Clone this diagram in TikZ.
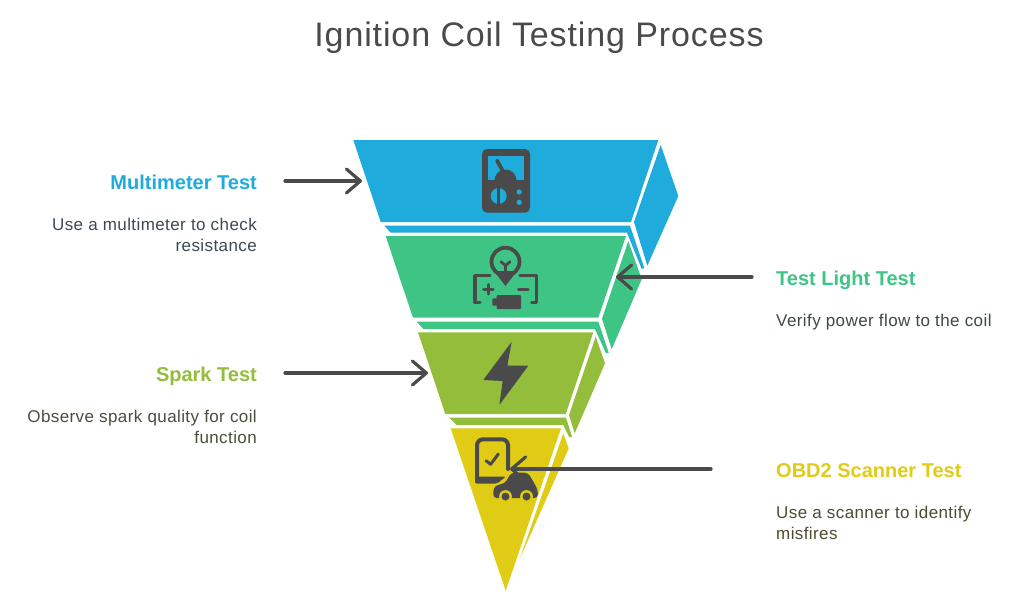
\documentclass[tikz,border=0pt]{standalone}
\usepackage{fontspec}
\setmainfont{Liberation Sans}
\usetikzlibrary{arrows.meta}
\definecolor{cblue}{HTML}{1FABDC}
\definecolor{cgreen}{HTML}{3EC585}
\definecolor{colive}{HTML}{93BD3A}
\definecolor{cyellow}{HTML}{E0CC14}
\definecolor{ink}{HTML}{4A4A4A}
\definecolor{dblue}{HTML}{3C4A52}
\definecolor{dgreen}{HTML}{3B4B44}
\definecolor{dolive}{HTML}{46503B}
\definecolor{dyellow}{HTML}{4D4B30}
\tikzset{
  pointer/.style={draw=ink,line width=3.2pt,line cap=round,-{Straight Barb[length=14pt,width=24pt,line join=round,line cap=round]}},
  icon/.style={draw=ink,line width=4pt,line cap=round,line join=round},
  head/.style={font=\fontsize{20}{24}\selectfont\bfseries,inner sep=0pt},
  desc/.style={font=\fontsize{17}{21}\addfontfeature{LetterSpace=2.4}\selectfont,inner sep=0pt},
  lefthead/.style={head,anchor=base east},
  righthead/.style={head,anchor=base west},
}
\begin{document}
\begin{tikzpicture}[x=1pt,y=-1pt]
\useasboundingbox[fill=white] (0,0) rectangle (1024,613);
\node[inner sep=0pt,text=ink,anchor=base,font=\fontsize{34}{40}\addfontfeature{LetterSpace=2.6}\selectfont] (title) at (539,46) {Ignition Coil Testing Process};

% blue
\fill[cblue] (353.3,140)--(658.3,140)--(631,222)--(380.7,222)--cycle;
\fill[cblue] (660.7,145)--(678.3,196)--(647.3,265.7)--(634,222)--cycle;
\fill[cblue] (384.3,225.7)--(630,225.7)--(644.3,268)--(641.7,269)--(627,232.7)--(390.7,232.7)--cycle;
% green
\fill[cgreen] (385.7,236)--(626,236)--(598.3,317.7)--(413,317.7)--cycle;
\fill[cgreen] (628.3,241)--(641.7,279.3)--(611.7,349.3)--(602,318.7)--cycle;
\fill[cgreen] (416.7,321.7)--(598.3,321.7)--(608.7,352.7)--(606,353.3)--(595,329)--(423.3,329)--cycle;
% olive
\fill[colive] (418,332.3)--(593.3,332.3)--(565.7,414)--(445.3,414)--cycle;
\fill[colive] (595.7,336.7)--(605,363.3)--(574.7,433.3)--(569,415)--cycle;
\fill[colive] (449.3,417.7)--(566,417.7)--(572,436.7)--(569.3,437.3)--(563.3,425)--(456.7,425)--cycle;
% yellow
\fill[cyellow] (450.7,428.3)--(561,428.3)--(505.7,590.7)--cycle;
\fill[cyellow] (563.3,433.3)--(568.7,448.3)--(520,558.3)--cycle;

% multimeter icon
\fill[ink,rounded corners=5pt] (482,149) rectangle (530,212.7);
\fill[cblue] (487.7,155.7) rectangle (524,180);
\fill[ink] (494.5,180.5) arc[start angle=180,end angle=360,radius=11] -- cycle;
\draw[ink,line width=3.8pt,line cap=round] (497,160.5)--(505,175);
\fill[cblue] (498.7,196) circle[radius=8];
\fill[ink] (497.2,186) rectangle (500.2,206);
\fill[cblue] (519.2,192) circle[radius=2.6];
\fill[cblue] (519.2,202.3) circle[radius=2.6];

% bulb icon
\draw[icon,line width=3.8pt] (505.5,261.7) circle[radius=14];
\fill[ink] (494,271) -- (505.5,286) -- (517,271) -- cycle;
\draw[icon,line width=2.8pt] (501,261.7)--(505.5,265.5)--(510,261.7) (505.5,265.5)--(505.5,274);
\draw[icon,line width=3.4pt] (490,275.7)--(475,275.7)--(475,302.7)--(480,302.7);
\draw[icon,line width=3.4pt] (520,275.7)--(536.7,275.7)--(536.7,302.7)--(531.7,302.7);
\draw[icon,line width=3pt] (483.5,289.3)--(493,289.3) (488.3,284.5)--(488.3,294);
\draw[icon,line width=3pt] (518.5,289.3)--(528,289.3);
\fill[ink,rounded corners=1pt] (496.7,295) rectangle (521,309);
\fill[ink,rounded corners=1pt] (492.3,298.3) rectangle (497.5,305.7);

% bolt icon
\fill[ink,rounded corners=0.8pt] (511.7,341.7)--(483.3,380)--(502.7,381)--(499.3,405)--(528.3,365.7)--(507.3,365.7)--cycle;

% scanner icon
\draw[icon,rounded corners=6pt] (477,478)--(477,439.3)--(508,439.3)--(508,469);
\fill[ink,rounded corners=2pt] (475,476.5)--(506,476.5)--(497,483.7)--(475,483.7)--cycle;
\draw[icon,line width=3pt] (486,460.7)--(490.7,464.3)--(498.3,454);
\fill[ink,rounded corners=3.5pt] (493.3,498)--(493.3,488)--(498,484.5)--(505,483.5)--(511,472.7)--(528,472.7)--(535,484.5)--(537.8,490)--(537.8,498)--cycle;
\fill[cyellow] (505.5,496.5) circle[radius=6.4];
\fill[cyellow] (526.5,496.5) circle[radius=6.4];
\fill[ink] (505.5,496.5) circle[radius=4];
\fill[ink] (526.5,496.5) circle[radius=4];

% labels
\node[lefthead,text=cblue] (h1) at (257,189) {Multimeter Test};
\node[desc,anchor=base east,text=dblue] (d1a) at (257,230) {Use a multimeter to check};
\node[desc,anchor=base east,text=dblue] (d1b) at (257,251) {resistance};
\node[righthead,text=cgreen] (h2) at (776,285) {Test Light Test};
\node[desc,anchor=base west,text=dgreen] (d2) at (776,326) {Verify power flow to the coil};
\node[lefthead,text=colive] (h3) at (257,381) {Spark Test};
\node[desc,anchor=base east,text=dolive] (d3a) at (257,422) {Observe spark quality for coil};
\node[desc,anchor=base east,text=dolive] (d3b) at (257,443) {function};
\node[righthead,text=cyellow] (h4) at (776,477) {OBD2 Scanner Test};
\node[desc,anchor=base west,text=dyellow] (d4a) at (776,518) {Use a scanner to identify};
\node[desc,anchor=base west,text=dyellow] (d4b) at (776,539) {misfires};

% connectors
\coordinate (a1s) at (285,181); \coordinate (a1e) at (362,181);
\coordinate (a2s) at (752,277); \coordinate (a2e) at (616,277);
\coordinate (a3s) at (285,373); \coordinate (a3e) at (428,373);
\coordinate (a4s) at (711,469); \coordinate (a4e) at (510,469);
\draw[pointer] (a1s)--(a1e);
\draw[pointer] (a2s)--(a2e);
\draw[pointer] (a3s)--(a3e);
\draw[pointer] (a4s)--(a4e);
\end{tikzpicture}
\end{document}
